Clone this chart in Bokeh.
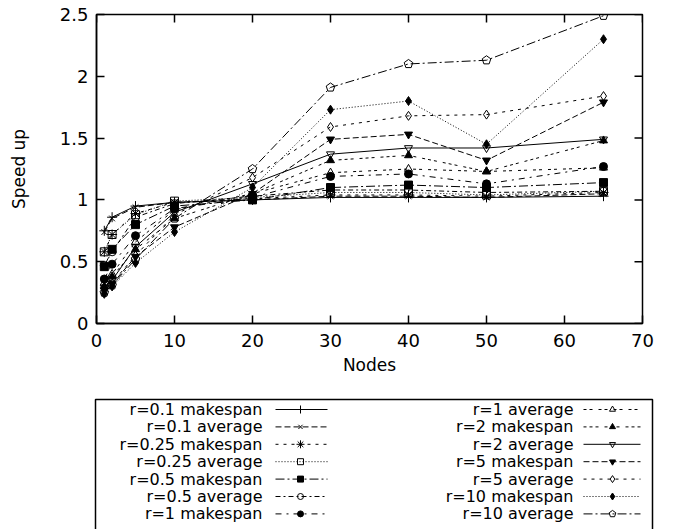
import math
from bokeh.plotting import figure
from bokeh.layouts import column
from bokeh.models import Range1d, FixedTicker
from bokeh.core.properties import value
from bokeh.embed import file_html
from bokeh.resources import INLINE

# ---------------- data ----------------
nodes = [1, 2, 5, 10, 20, 30, 40, 50, 65]

r01_makespan = [0.75, 0.86, 0.95, 0.98, 1.00, 1.02, 1.02, 1.02, 1.03]
r01_average = [0.74, 0.85, 0.94, 0.98, 1.00, 1.03, 1.03, 1.02, 1.05]
r025_makespan = [0.58, 0.72, 0.89, 0.98, 1.01, 1.04, 1.04, 1.03, 1.06]
r025_average = [0.58, 0.72, 0.88, 0.99, 1.02, 1.06, 1.06, 1.04, 1.07]
r05_makespan = [0.46, 0.60, 0.80, 0.95, 1.00, 1.10, 1.12, 1.10, 1.14]
r05_average = [0.47, 0.58, 0.86, 0.97, 1.03, 1.08, 1.08, 1.06, 1.07]
r1_makespan = [0.36, 0.48, 0.71, 0.93, 1.02, 1.19, 1.21, 1.13, 1.27]
r1_average = [0.33, 0.40, 0.66, 0.92, 1.05, 1.22, 1.25, 1.23, 1.26]
r2_makespan = [0.30, 0.38, 0.60, 0.85, 1.05, 1.32, 1.36, 1.23, 1.48]
r2_average = [0.29, 0.35, 0.62, 0.90, 1.13, 1.37, 1.42, 1.42, 1.49]
r5_makespan = [0.27, 0.32, 0.54, 0.78, 1.05, 1.49, 1.53, 1.32, 1.79]
r5_average = [0.26, 0.33, 0.55, 0.88, 1.18, 1.59, 1.68, 1.69, 1.84]
r10_makespan = [0.24, 0.30, 0.49, 0.74, 1.10, 1.73, 1.80, 1.45, 2.30]
r10_average = [0.25, 0.31, 0.52, 0.85, 1.25, 1.91, 2.10, 2.13, 2.49]

series_labels = [
    "r=0.1 makespan", "r=0.1 average", "r=0.25 makespan", "r=0.25 average",
    "r=0.5 makespan", "r=0.5 average", "r=1 makespan", "r=1 average",
    "r=2 makespan", "r=2 average", "r=5 makespan", "r=5 average",
    "r=10 makespan", "r=10 average",
]

x_ticks = [0, 10, 20, 30, 40, 50, 60, 70]
x_tick_labels = ["0", "10", "20", "30", "40", "50", "60", "70"]
y_ticks = [0, 0.5, 1, 1.5, 2, 2.5]
y_tick_labels = ["0", "0.5", "1", "1.5", "2", "2.5"]

x_axis_title = "Nodes"
y_axis_title = "Speed up"

series_values = [
    r01_makespan, r01_average, r025_makespan, r025_average,
    r05_makespan, r05_average, r1_makespan, r1_average,
    r2_makespan, r2_average, r5_makespan, r5_average,
    r10_makespan, r10_average,
]

# ---------------- styles ----------------
dash_cycle = ["solid", "6 3", "3 5", "1 2", "9 3 2 3", "5 3 2 3",
              "6 5 2 5", "3 3 3 6", "3 3 3 3 3 6"]
markers = ["cross", "x", "asterisk", "square", "square", "circle", "circle",
           "triangle", "triangle", "inverted_triangle", "inverted_triangle",
           "diamond", "diamond", "pentagon"]
filled = [False, False, False, False, True, False, True,
          False, True, False, True, False, True, False]
msize = [10, 8, 10, 8, 8, 8, 8, 8, 8, 8, 8, 9, 9, 9]

FONT = "DejaVu Sans"
X0, X1 = 0, 70
Y0, Y1 = 0, 2.5


def no_align(fig):
    if "frame_align" in fig.properties():
        fig.frame_align = False


def draw_points(fig, xs, ys, i, size):
    fc = "black" if filled[i] else None
    if markers[i] == "pentagon":
        if hasattr(fig, "ngon"):
            try:
                fig.ngon(x=xs, y=ys, radius=size / 2.0, radius_units="screen", n=5,
                         line_color="black", line_width=1, fill_color=None)
                return
            except Exception:
                pass
        fig.scatter(xs, ys, marker="hex", size=size, line_color="black",
                    line_width=1, fill_color=None)
        return
    fig.scatter(xs, ys, marker=markers[i], size=size, line_color="black",
                line_width=1, fill_color=fc)


W = 675
p = figure(width=W, height=390, x_range=Range1d(X0, X1), y_range=Range1d(Y0, Y1),
           output_backend="svg", toolbar_location=None,
           min_border_left=96, min_border_right=33, min_border_top=14,
           min_border_bottom=67, x_axis_label=x_axis_title, y_axis_label=y_axis_title)
no_align(p)
p.xgrid.visible = False
p.ygrid.visible = False
p.outline_line_color = "black"
p.outline_line_width = 1.5
p.background_fill_color = "white"
p.border_fill_color = "white"

p.xaxis.ticker = FixedTicker(ticks=x_ticks)
p.xaxis.major_label_overrides = {t: s for t, s in zip(x_ticks, x_tick_labels)}
p.yaxis.ticker = FixedTicker(ticks=y_ticks)
p.yaxis.major_label_overrides = {t: s for t, s in zip(y_ticks, y_tick_labels)}

for ax in [p.xaxis[0], p.yaxis[0]]:
    ax.minor_tick_line_color = None
    ax.major_tick_in = 8
    ax.major_tick_out = 0
    ax.major_tick_line_color = "black"
    ax.major_tick_line_width = 1.5
    ax.axis_line_color = "black"
    ax.axis_line_width = 1.5
    ax.major_label_text_font = FONT
    ax.major_label_text_font_size = "18px"
    ax.major_label_text_color = "black"
    ax.axis_label_text_font = FONT
    ax.axis_label_text_font_size = "17px"
    ax.axis_label_text_font_style = "normal"
    ax.axis_label_text_color = "black"

p.xaxis.major_label_standoff = 10
p.xaxis.axis_label_standoff = 5
p.yaxis.major_label_standoff = 8
p.yaxis.axis_label_standoff = 28

# mirrored inward ticks on top and right edges (half of each dash is clipped by the frame)
p.scatter(x_ticks, [Y1] * len(x_ticks), marker="dash", angle=math.pi / 2, size=16,
          line_color="black", line_width=1.5)
p.scatter([X1] * len(y_ticks), y_ticks, marker="dash", size=16,
          line_color="black", line_width=1.5)

for i, ys in enumerate(series_values):
    dash = dash_cycle[i % 9]
    p.line(nodes, ys, line_color="black", line_width=1, line_dash=dash)
    draw_points(p, nodes, ys, i, msize[i])

# ---------------- legend (separate panel) ----------------
LH = 139
lg = figure(width=W, height=LH, x_range=Range1d(0, W), y_range=Range1d(LH, 0),
            output_backend="svg", toolbar_location=None, min_border=0,
            min_border_left=0, min_border_right=0, min_border_top=0, min_border_bottom=0,
            x_axis_location=None, y_axis_location=None)
no_align(lg)
lg.xgrid.visible = False
lg.ygrid.visible = False
lg.outline_line_color = None
lg.background_fill_color = "white"
lg.border_fill_color = "white"

lg.line([95, 95, 652, 652], [LH + 5, 9, 9, LH + 5], line_color="black", line_width=1.5)

text_x = [262, 573]
line_x0 = [275, 583]
line_x1 = [327, 640]
mark_x = [300, 612]
row0, rowh = 19, 17.4

tx, ty = [], []
for i, lab in enumerate(series_labels):
    c, r = divmod(i, 7)
    y = row0 + rowh * r
    tx.append(text_x[c])
    ty.append(y)
    lg.line([line_x0[c], line_x1[c]], [y, y], line_color="black", line_width=1,
            line_dash=dash_cycle[i % 9])
    draw_points(lg, [mark_x[c]], [y], i, msize[i] - 2)
lg.text(tx, ty, text=series_labels, text_align="right", text_baseline="middle",
        text_font=value(FONT), text_font_size=value("16px"), text_color="black")

layout = column(p, lg, spacing=0)
open("out.html", "w").write(file_html(layout, INLINE))
